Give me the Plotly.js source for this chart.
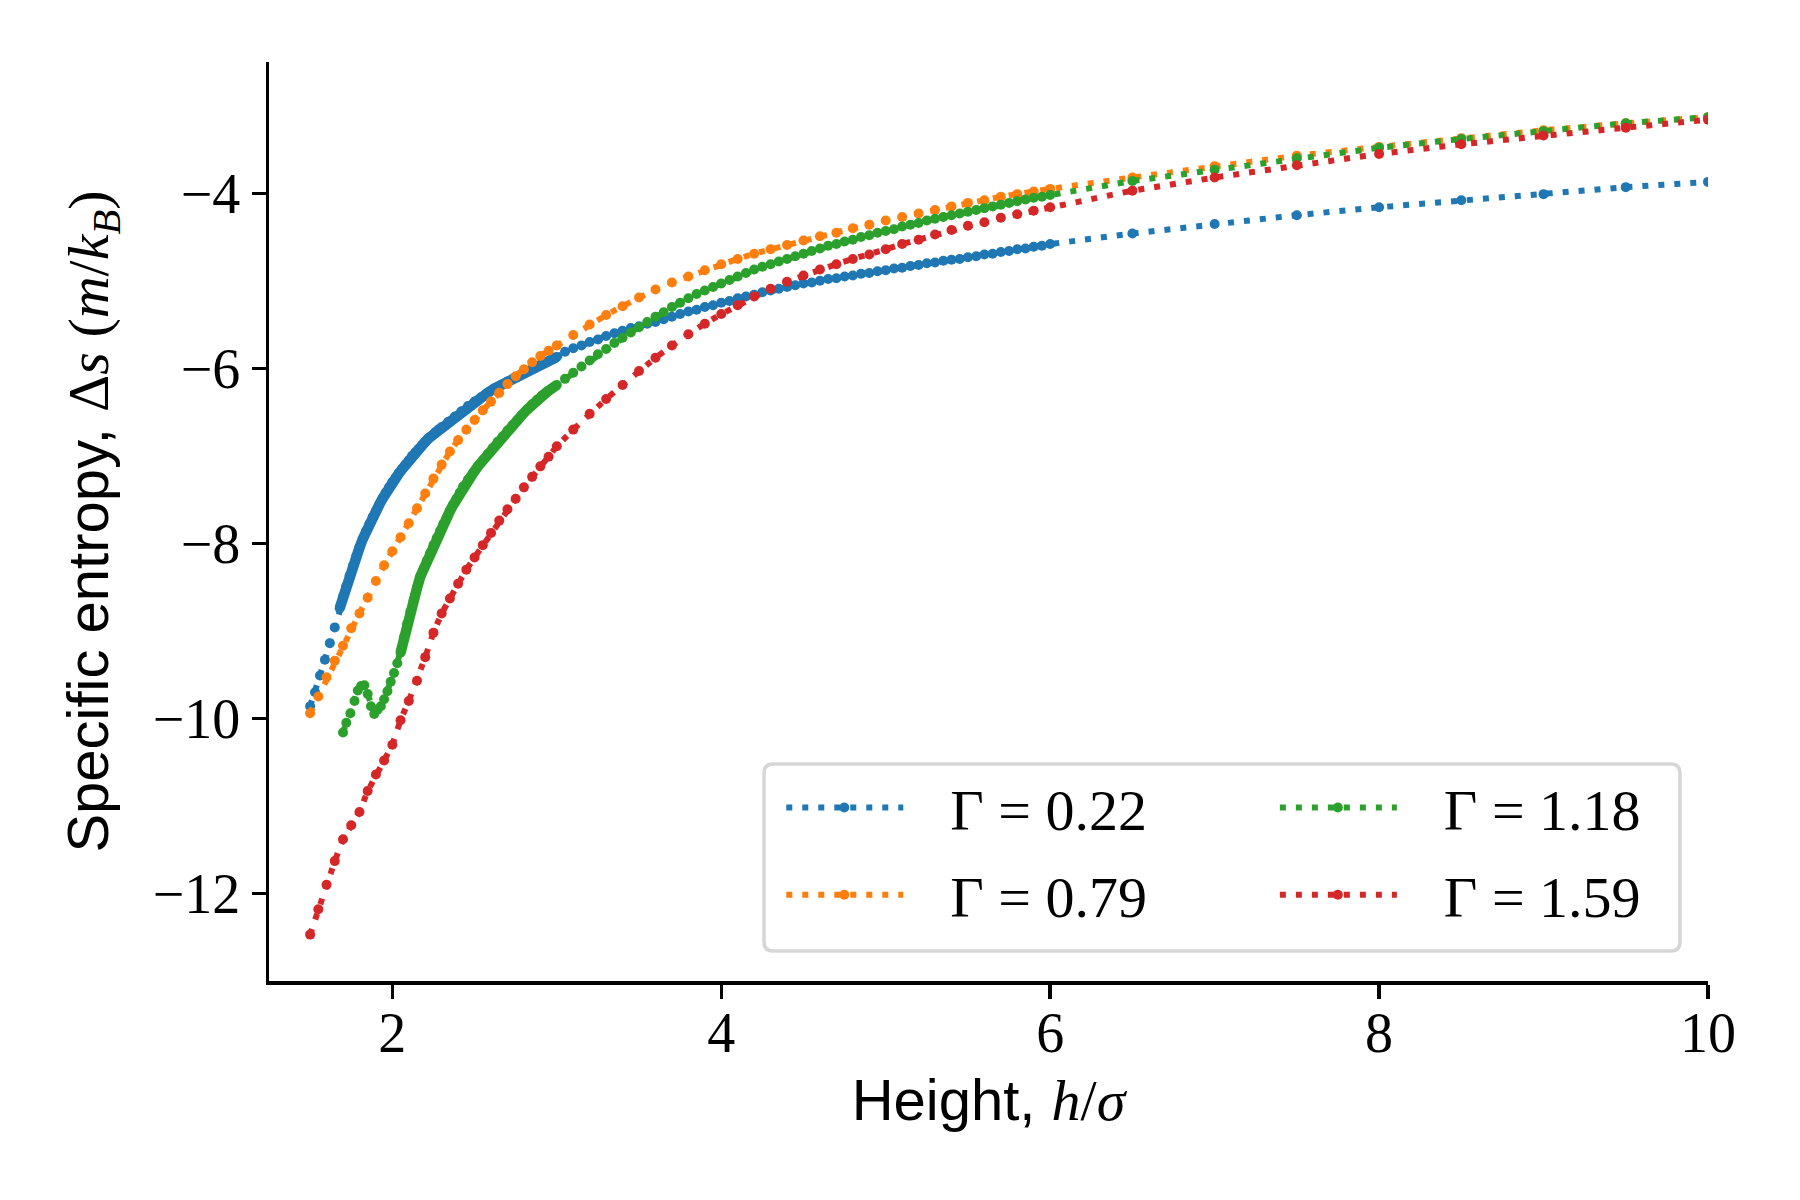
<!DOCTYPE html>
<html>
<head>
<meta charset="utf-8">
<script src="https://cdn.plot.ly/plotly-3.0.1.min.js"></script>
<style>
  body { margin: 0; background: white; }
  #chart { width: 1800px; height: 1200px; }
</style>
</head>
<body>
<div id="chart"></div>
<script>
// values: h/sigma vs specific entropy, one series per Gamma
var labels = ['Γ = 0.22', 'Γ = 0.79', 'Γ = 1.18', 'Γ = 1.59'];
var colors = ['#1f77b4', '#ff7f0e', '#2ca02c', '#d62728'];

var xBlue = [1.50,1.53,1.56,1.59,1.62,1.65,1.68,
  1.70,1.72,1.74,1.76,1.78,1.80,1.82,1.84,1.86,1.88,1.90,1.92,1.94,1.96,1.98,2.00,2.02,2.04,2.06,2.08,2.10,2.12,2.14,2.16,2.18,2.20,2.22,2.24,2.26,2.28,2.30,
  2.34,2.38,2.42,2.46,2.50,2.54,2.58,2.62,2.66,2.70,2.74,2.78,2.82,2.86,2.90,2.94,2.98,3.00,
  3.05,3.10,3.15,3.20,3.25,3.30,3.35,3.40,3.45,3.50,3.55,3.60,3.65,3.70,3.75,3.80,3.85,3.90,3.95,4.00,
  4.05,4.10,4.15,4.20,4.25,4.30,4.35,4.40,4.45,4.50,4.55,4.60,4.65,4.70,4.75,4.80,4.85,4.90,4.95,5.00,
  5.05,5.10,5.15,5.20,5.25,5.30,5.35,5.40,5.45,5.50,5.55,5.60,5.65,5.70,5.75,5.80,5.85,5.90,5.95,6.00,
  6.5,7.0,7.5,8.0,8.5,9.0,9.5,10.0];
var yBlue = [-9.86,-9.70,-9.51,-9.33,-9.14,-8.96,-8.74,
  -8.61,-8.49,-8.37,-8.26,-8.15,-8.05,-7.95,-7.86,-7.78,-7.70,-7.63,-7.56,-7.49,-7.42,-7.36,-7.30,-7.25,-7.20,-7.15,-7.10,-7.05,-7.00,-6.96,-6.92,-6.88,-6.84,-6.80,-6.77,-6.73,-6.70,-6.67,
  -6.61,-6.55,-6.49,-6.43,-6.38,-6.33,-6.28,-6.23,-6.19,-6.15,-6.11,-6.07,-6.03,-6.00,-5.96,-5.93,-5.89,-5.87,
  -5.81,-5.77,-5.74,-5.70,-5.67,-5.63,-5.60,-5.57,-5.54,-5.52,-5.49,-5.47,-5.44,-5.41,-5.38,-5.35,-5.33,-5.30,-5.28,-5.25,
  -5.23,-5.20,-5.18,-5.16,-5.13,-5.11,-5.09,-5.07,-5.05,-5.03,-5.02,-5.00,-4.98,-4.97,-4.95,-4.94,-4.92,-4.91,-4.89,-4.88,
  -4.86,-4.85,-4.83,-4.82,-4.80,-4.79,-4.77,-4.76,-4.75,-4.73,-4.72,-4.70,-4.69,-4.67,-4.66,-4.64,-4.63,-4.61,-4.60,-4.58,
  -4.46,-4.35,-4.25,-4.16,-4.08,-4.01,-3.93,-3.87];

var xOrange = [1.50,1.55,1.60,1.65,1.70,1.75,1.80,1.85,1.90,1.95,2.00,2.05,2.10,2.15,2.20,2.25,2.30,2.35,2.40,2.45,2.50,2.55,2.60,2.65,2.70,2.75,2.80,2.85,2.90,2.95,3.00,
  3.1,3.2,3.3,3.4,3.5,3.6,3.7,3.8,3.9,4.0,4.1,4.2,4.3,4.4,4.5,4.6,4.7,4.8,4.9,5.0,5.1,5.2,5.3,5.4,5.5,5.6,5.7,5.8,5.9,6.0,
  6.5,7.0,7.5,8.0,8.5,9.0,9.5,10.0];
var yOrange = [-9.94,-9.75,-9.53,-9.34,-9.17,-8.97,-8.80,-8.62,-8.43,-8.25,-8.09,-7.93,-7.77,-7.60,-7.43,-7.26,-7.10,-6.95,-6.82,-6.70,-6.59,-6.48,-6.38,-6.28,-6.18,-6.09,-6.01,-5.93,-5.86,-5.80,-5.74,
  -5.62,-5.50,-5.39,-5.29,-5.19,-5.10,-5.02,-4.95,-4.88,-4.81,-4.75,-4.69,-4.64,-4.59,-4.54,-4.49,-4.45,-4.40,-4.36,-4.31,-4.27,-4.23,-4.19,-4.15,-4.11,-4.08,-4.04,-4.01,-3.98,-3.95,
  -3.82,-3.69,-3.57,-3.47,-3.37,-3.28,-3.20,-3.13];

var xGreen = [1.70,1.72,1.745,
  1.77,1.79,1.81,1.83,1.85,1.87,1.89,1.91,1.93,1.95,1.97,1.99,2.01,2.03,2.05,2.07,2.09,2.11,2.13,2.15,2.17,2.19,2.21,2.23,2.25,2.27,2.29,2.31,2.33,2.35,2.37,2.39,2.41,2.43,
  2.46,2.49,2.52,2.55,2.58,2.61,2.64,2.67,2.70,2.73,2.76,2.79,2.82,2.85,2.88,2.91,2.94,2.97,3.00,
  3.05,3.10,3.15,3.20,3.25,3.30,3.35,3.40,3.45,3.50,3.55,3.60,3.65,3.70,3.75,3.80,3.85,3.90,3.95,4.00,
  4.05,4.10,4.15,4.20,4.25,4.30,4.35,4.40,4.45,4.50,4.55,4.60,4.65,4.70,4.75,4.80,4.85,4.90,4.95,5.00,
  5.05,5.10,5.15,5.20,5.25,5.30,5.35,5.40,5.45,5.50,5.55,5.60,5.65,5.70,5.75,5.80,5.85,5.90,5.95,6.00,
  6.5,7.0,7.5,8.0,8.5,9.0,9.5,10.0];
var yGreen = [-10.16,-10.05,-9.94,
  -9.80,-9.68,-9.63,-9.62,-9.72,-9.86,-9.95,-9.90,-9.86,-9.78,-9.69,-9.58,-9.48,-9.37,-9.25,-9.08,-8.92,-8.78,-8.65,-8.51,-8.38,-8.29,-8.20,-8.11,-8.02,-7.94,-7.86,-7.78,-7.71,-7.63,-7.56,-7.49,-7.42,-7.35,
  -7.27,-7.20,-7.12,-7.05,-6.98,-6.91,-6.84,-6.78,-6.71,-6.65,-6.59,-6.53,-6.47,-6.41,-6.36,-6.31,-6.27,-6.23,-6.19,
  -6.12,-6.05,-5.98,-5.91,-5.84,-5.78,-5.71,-5.65,-5.59,-5.53,-5.47,-5.41,-5.36,-5.30,-5.25,-5.20,-5.15,-5.11,-5.07,-5.03,
  -4.99,-4.95,-4.91,-4.87,-4.84,-4.81,-4.78,-4.75,-4.72,-4.69,-4.66,-4.63,-4.60,-4.58,-4.55,-4.53,-4.50,-4.48,-4.45,-4.43,
  -4.41,-4.38,-4.36,-4.34,-4.31,-4.29,-4.27,-4.25,-4.23,-4.21,-4.19,-4.17,-4.15,-4.13,-4.11,-4.09,-4.07,-4.05,-4.04,-4.02,
  -3.86,-3.73,-3.60,-3.48,-3.38,-3.29,-3.20,-3.13];

var xRed = [1.50,1.55,1.60,1.65,1.70,1.75,1.80,1.85,1.90,1.95,2.00,2.05,2.10,2.15,2.20,2.25,2.30,2.35,2.40,2.45,2.50,2.55,2.60,2.65,2.70,2.75,2.80,2.85,2.90,2.95,3.00,
  3.1,3.2,3.3,3.4,3.5,3.6,3.7,3.8,3.9,4.0,4.1,4.2,4.3,4.4,4.5,4.6,4.7,4.8,4.9,5.0,5.1,5.2,5.3,5.4,5.5,5.6,5.7,5.8,5.9,6.0,
  6.5,7.0,7.5,8.0,8.5,9.0,9.5,10.0];
var yRed = [-12.47,-12.18,-11.90,-11.63,-11.38,-11.22,-11.07,-10.83,-10.64,-10.48,-10.30,-10.02,-9.80,-9.57,-9.30,-9.02,-8.80,-8.63,-8.46,-8.30,-8.16,-8.02,-7.88,-7.74,-7.61,-7.49,-7.36,-7.24,-7.12,-7.01,-6.89,
  -6.70,-6.52,-6.35,-6.19,-6.03,-5.88,-5.74,-5.61,-5.49,-5.38,-5.28,-5.18,-5.09,-5.01,-4.94,-4.87,-4.81,-4.75,-4.70,-4.64,-4.58,-4.53,-4.47,-4.42,-4.37,-4.33,-4.28,-4.24,-4.20,-4.16,
  -3.97,-3.82,-3.68,-3.55,-3.44,-3.34,-3.25,-3.16];

// h/sigma ranges where the simulation output is so dense the markers merge into a band
var denseBlue = [1.68, 3.00];
var denseGreen = [2.05, 3.00];

var xTicks = [2, 4, 6, 8, 10];
var yTicks = [-12, -10, -8, -6, -4];

var serif = 'Liberation Serif';
var sans = 'Liberation Sans';

function series(x, y, i, legendId) {
  return {
    x: x, y: y, name: labels[i], legend: legendId,
    type: 'scatter', mode: 'lines+markers',
    line: {color: colors[i], width: 6, dash: '6px,10px'},
    marker: {color: colors[i], size: 10},
    hoverinfo: 'skip'
  };
}

function band(x, y, i, range) {
  var bx = [], by = [];
  for (var k = 0; k < x.length; k++) {
    if (x[k] >= range[0] && x[k] <= range[1]) { bx.push(x[k]); by.push(y[k]); }
  }
  return {
    x: bx, y: by, type: 'scatter', mode: 'lines', showlegend: false,
    line: {color: colors[i], width: 10.5}, hoverinfo: 'skip'
  };
}

var data = [
  band(xBlue, yBlue, 0, denseBlue),
  band(xGreen, yGreen, 2, denseGreen),
  series(xBlue, yBlue, 0, 'legend'),
  series(xOrange, yOrange, 1, 'legend2'),
  series(xGreen, yGreen, 2, 'legend3'),
  series(xRed, yRed, 3, 'legend4')
];

function legendAt(x, y) {
  return {x: x, y: y, xanchor: 'left', yanchor: 'middle', bgcolor: 'rgba(0,0,0,0)', visible: true,
          borderwidth: 0, itemwidth: 159, font: {family: serif, size: 58, color: 'black'}};
}

// legend frame, rounded corners like matplotlib
var bx0 = 0.344, bx1 = 0.9805, by0 = 0.0326, by1 = 0.2361, rx = 0.0063, ry = 0.0098;
var framePath = 'M' + (bx0 + rx) + ',' + by1 + ' L' + (bx1 - rx) + ',' + by1 +
  ' Q' + bx1 + ',' + by1 + ' ' + bx1 + ',' + (by1 - ry) +
  ' L' + bx1 + ',' + (by0 + ry) + ' Q' + bx1 + ',' + by0 + ' ' + (bx1 - rx) + ',' + by0 +
  ' L' + (bx0 + rx) + ',' + by0 + ' Q' + bx0 + ',' + by0 + ' ' + bx0 + ',' + (by0 + ry) +
  ' L' + bx0 + ',' + (by1 - ry) + ' Q' + bx0 + ',' + by1 + ' ' + (bx0 + rx) + ',' + by1 + ' Z';

var layout = {
  width: 1800, height: 1200,
  margin: {l: 269, r: 92, t: 62, b: 219},
  paper_bgcolor: 'white', plot_bgcolor: 'white',
  font: {family: serif, size: 56, color: 'black'},
  showlegend: true,
  xaxis: {
    range: [1.25, 10], tickvals: xTicks, ticks: 'outside', ticklen: 14, tickwidth: 3.5, tickcolor: 'black',
    showline: true, linewidth: 3.5, linecolor: 'black', showgrid: false, zeroline: false,
    tickfont: {family: serif, size: 56}, ticklabelstandoff: -14,
    title: {text: 'Height, <span style="font-family:Liberation Serif"><i>h</i>/<i>σ</i></span>',
            font: {family: sans, size: 58}, standoff: 17}
  },
  yaxis: {
    range: [-13, -2.5], tickvals: yTicks, ticks: 'outside', ticklen: 14, tickwidth: 3.5, tickcolor: 'black',
    showline: true, linewidth: 3.5, linecolor: 'black', showgrid: false, zeroline: false,
    tickfont: {family: serif, size: 56},
    title: {text: 'Specific entropy, <span style="font-family:Liberation Serif">Δ<i>s</i> (<i>m</i>/<i>k</i><sub><i>B</i></sub>)</span>\u00a0\u00a0',
            font: {family: sans, size: 58}, standoff: 26}
  },
  legend: legendAt(0.356, 0.1885),
  legend2: legendAt(0.356, 0.0935),
  legend3: legendAt(0.699, 0.1885),
  legend4: legendAt(0.699, 0.0935),
  shapes: [{type: 'path', xref: 'paper', yref: 'paper', path: framePath,
            fillcolor: 'rgba(255,255,255,0.8)', line: {color: '#d6d6d6', width: 3.5}}]
};

Plotly.newPlot('chart', data, layout, {staticPlot: true}).then(function (gd) {
  // matplotlib-style long legend samples with the marker in the middle
  gd.querySelectorAll('.infolayer .legendlines path').forEach(function (p) {
    p.setAttribute('d', 'M5,0h117');
  });
  gd.querySelectorAll('.infolayer .legendpoints path.scatterpts').forEach(function (p) {
    p.setAttribute('transform', 'translate(63,0)');
  });
});
</script>
</body>
</html>
